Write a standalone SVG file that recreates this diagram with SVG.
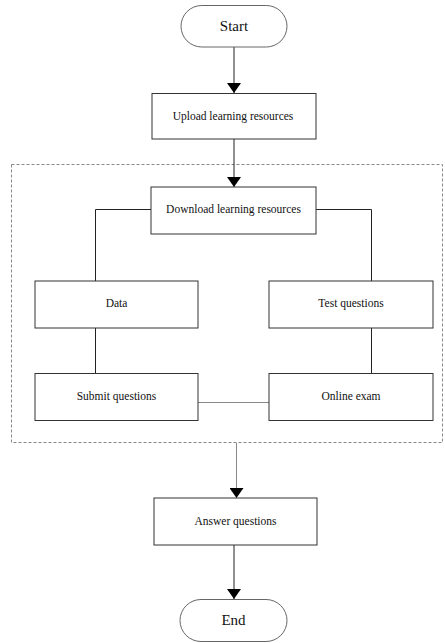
<svg xmlns="http://www.w3.org/2000/svg" width="445" height="643" viewBox="0 0 445 643">
  <style>
    .box { fill: #ffffff; stroke: #333333; stroke-width: 1; }
    .term { fill: #ffffff; stroke: #666666; stroke-width: 1; }
    .lbl { font-family: 'Liberation Serif', 'Times New Roman', serif; font-size: 11.5px; fill: #111111; text-anchor: middle; }
    .big { font-size: 15px; }
    .line { fill: none; stroke: #222222; stroke-width: 1; }
    .soft { fill: none; stroke: #888888; stroke-width: 1; }
    .group { fill: none; stroke: #888888; stroke-width: 1; stroke-dasharray: 3 2; }
  </style>
  <defs>
    <marker id="arrow" markerWidth="10" markerHeight="14" refX="10" refY="7" orient="auto" markerUnits="userSpaceOnUse">
      <path d="M0,0 L10,7 L0,14 Z" fill="#000000"/>
    </marker>
  </defs>

  <rect width="445" height="643" fill="#ffffff"/>

  <!-- dashed grouping frame -->
  <rect class="group" x="11.5" y="164.5" width="431" height="278"/>

  <g id="connectors">
    <line class="line" x1="234" y1="47" x2="234" y2="93" marker-end="url(#arrow)"/>
    <line class="line" x1="234" y1="139" x2="234" y2="187" marker-end="url(#arrow)"/>
    <polyline class="line" points="151,209.5 95.5,209.5 95.5,281"/>
    <polyline class="line" points="316,209.5 371.5,209.5 371.5,281"/>
    <line class="line" x1="95.5" y1="328" x2="95.5" y2="373"/>
    <line class="line" x1="371.5" y1="328" x2="371.5" y2="373"/>
    <line class="soft" x1="198" y1="402.5" x2="269" y2="402.5"/>
    <line class="soft" x1="236.5" y1="443" x2="236.5" y2="498" marker-end="url(#arrow)"/>
    <line class="line" x1="234" y1="545" x2="234" y2="599" marker-end="url(#arrow)"/>
  </g>

  <g id="start">
    <rect class="term" x="181" y="5.5" width="106" height="41.5" rx="20.75"/>
    <text class="lbl big" x="234" y="31">Start</text>
  </g>
  <g id="upload">
    <rect class="box" x="152" y="93.5" width="164" height="45.5"/>
    <text class="lbl" x="233" y="120">Upload learning resources</text>
  </g>
  <g id="download">
    <rect class="box" x="151" y="187" width="165" height="47"/>
    <text class="lbl" x="233.5" y="213">Download learning resources</text>
  </g>
  <g id="data">
    <rect class="box" x="35" y="281" width="163" height="47"/>
    <text class="lbl" x="116.5" y="306.5">Data</text>
  </g>
  <g id="test-questions">
    <rect class="box" x="269" y="281" width="164" height="47"/>
    <text class="lbl" x="351" y="306.5">Test questions</text>
  </g>
  <g id="submit-questions">
    <rect class="box" x="35" y="373.5" width="163" height="47"/>
    <text class="lbl" x="116.5" y="400">Submit questions</text>
  </g>
  <g id="online-exam">
    <rect class="box" x="269" y="373.5" width="164" height="47"/>
    <text class="lbl" x="351" y="400">Online exam</text>
  </g>
  <g id="answer-questions">
    <rect class="box" x="154" y="498" width="163" height="47"/>
    <text class="lbl" x="235.5" y="524.5">Answer questions</text>
  </g>
  <g id="end">
    <rect class="term" x="180" y="599.5" width="107" height="42" rx="21"/>
    <text class="lbl big" x="233.5" y="625">End</text>
  </g>
</svg>
